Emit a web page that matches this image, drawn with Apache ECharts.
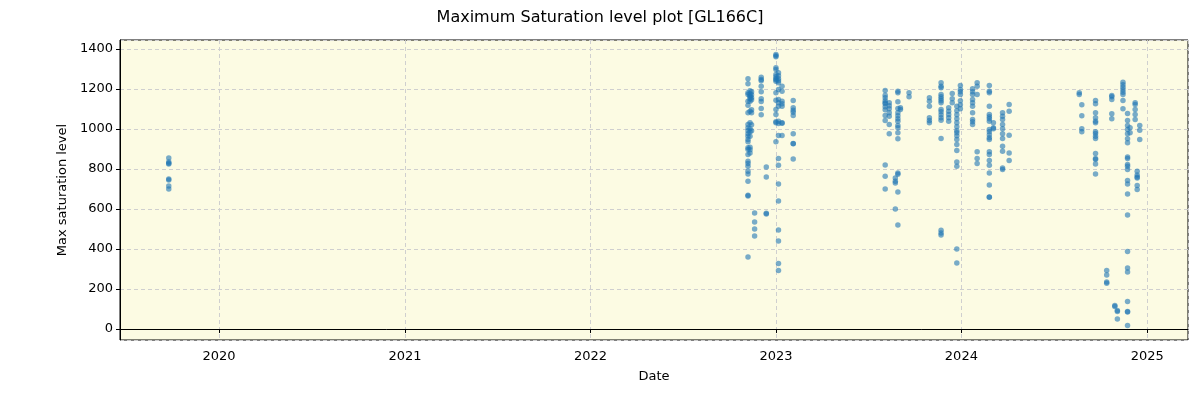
<!DOCTYPE html>
<html>
<head>
<meta charset="utf-8">
<script src="https://cdn.jsdelivr.net/npm/echarts@6/dist/echarts.min.js"></script>
<style>
  html, body { margin: 0; padding: 0; background: #fff; }
  #chart { width: 1200px; height: 400px; }
</style>
</head>
<body>
<div id="chart"></div>
<script>
// observation dates, and the max saturation levels read on each of them
const dates = [
  '2019-09-24',
  '2022-11-07', '2022-11-11', '2022-11-14', '2022-11-20', '2022-12-03', '2022-12-13',
  '2023-01-01', '2023-01-06', '2023-01-13', '2023-02-04',
  '2023-08-04', '2023-08-12', '2023-08-24', '2023-08-29', '2023-09-03', '2023-09-20',
  '2023-10-30', '2023-11-22', '2023-12-07', '2023-12-14', '2023-12-23', '2023-12-30',
  '2024-01-23', '2024-02-01', '2024-02-25', '2024-03-04', '2024-03-22', '2024-04-04',
  '2024-08-20', '2024-08-25', '2024-09-21', '2024-10-13', '2024-10-23', '2024-10-29',
  '2024-11-03', '2024-11-14', '2024-11-23', '2024-11-28', '2024-12-08', '2024-12-12',
  '2024-12-17',
]
const levels = [
  [855, 835, 828, 825, 750, 745, 715, 700],
  [1250, 1225, 1180, 1172, 1138, 1118, 1080, 1022, 1005, 990, 975, 963, 947, 935, 905, 897, 872, 838, 827, 813, 788, 775, 738, 668, 665, 360],
  [1190, 1175, 1165, 1160, 1150, 1138, 1088, 1030, 1000, 985, 963, 908, 895, 880],
  [1185, 1170, 1155, 1145, 1095, 1080, 1020, 990],
  [580, 535, 500, 465],
  [1258, 1247, 1240, 1213, 1185, 1150, 1137, 1102, 1070],
  [810, 760, 578, 575],
  [1372, 1365, 1360, 1305, 1297, 1272, 1260, 1250, 1245, 1238, 1180, 1143, 1097, 1072, 1035, 1030, 935],
  [1280, 1265, 1250, 1240, 1230, 1197, 1147, 1130, 1113, 1038, 1027, 967, 852, 818, 725, 640, 495, 440, 327, 292],
  [1213, 1188, 1138, 1125, 1113, 1030, 1028, 967],
  [1142, 1105, 1093, 1083, 1067, 975, 927, 925, 850],
  [1192, 1168, 1155, 1140, 1130, 1125, 1110, 1095, 1067, 1042, 820, 763, 700],
  [1130, 1115, 1100, 1080, 1063, 1022, 975],
  [755, 738, 730, 600],
  [1188, 1180, 1135, 1102, 1080, 1065, 1050, 1038, 1017, 1005, 980, 950, 780, 773, 685, 520],
  [1105, 1097],
  [1180, 1160],
  [1155, 1138, 1113, 1055, 1042, 1030],
  [1230, 1213, 1205, 1172, 1160, 1150, 1140, 1130, 1097, 1085, 1070, 1055, 1043, 952, 493, 480, 470],
  [1105, 1088, 1072, 1055, 1038],
  [1177, 1150, 1130],
  [1113, 1090, 1070, 1050, 1030, 1010, 990, 980, 965, 947, 922, 892, 835, 813, 400, 330],
  [1217, 1197, 1185, 1172, 1140, 1120, 1100],
  [1200, 1185, 1172, 1147, 1130, 1113, 1080, 1047, 1035, 1022],
  [1230, 1213, 1172, 885, 852, 827],
  [1217, 1188, 1180, 1113, 1072, 1060, 1050, 1038, 997, 985, 970, 955, 947, 885, 872, 842, 818, 780, 720, 660, 658],
  [1030, 1005, 1000],
  [1080, 1063, 1047, 1022, 1000, 975, 952, 913, 888, 805, 797],
  [1122, 1088, 968, 880, 842],
  [1180, 1172],
  [1120, 1065, 1000, 985],
  [1142, 1125, 1080, 1055, 1038, 1030, 985, 977, 963, 952, 877, 852, 847, 825, 775],
  [292, 270, 235, 228],
  [1167, 1160, 1147, 1075, 1050],
  [117, 112],
  [93, 88, 50],
  [1233, 1220, 1208, 1195, 1183, 1172, 1142, 1100],
  [1077, 1042, 1017, 997, 975, 950, 930, 860, 852, 822, 813, 797, 742, 725, 675, 570, 387, 305, 285, 137, 88, 85, 17],
  [1005, 980],
  [1130, 1122, 1097, 1072, 1047],
  [788, 770, 760, 755, 717, 697],
  [1017, 993, 947],
]

const points = []
dates.forEach((d, i) => levels[i].forEach(v => points.push([d, v])))

const chart = echarts.init(document.getElementById('chart'))
const FONT = 'DejaVu Sans'

chart.setOption({
  animation: false,
  title: {
    text: 'Maximum Saturation level plot [GL166C]',
    left: 'center',
    top: 5,
    textStyle: { fontFamily: FONT, fontSize: 16, fontWeight: 'normal', color: '#000' },
  },
  grid: {
    left: 120, right: 12, top: 40, bottom: 60,
    show: true,
    backgroundColor: '#fcfbe3',
    borderColor: '#000',
    borderWidth: 1,
  },
  xAxis: {
    type: 'time',
    min: '2019-06-20',
    max: '2025-03-22',
    minInterval: 365 * 24 * 3600 * 1000,
    maxInterval: 366 * 24 * 3600 * 1000,
    name: 'Date',
    nameLocation: 'middle',
    nameGap: 30,
    nameTextStyle: { fontFamily: FONT, fontSize: 13, color: '#000' },
    axisLine: { lineStyle: { color: '#000' } },
    axisTick: { length: 4, lineStyle: { color: '#000' } },
    axisLabel: {
      fontFamily: FONT, fontSize: 13, color: '#000', margin: 10,
      formatter: '{yyyy}', showMinLabel: false, showMaxLabel: false,
    },
    splitLine: { show: true, lineStyle: { color: '#cfcfcf', type: [4, 3] } },
  },
  yAxis: {
    type: 'value',
    min: -55,
    max: 1444,
    splitNumber: 7,
    name: 'Max saturation level',
    nameLocation: 'middle',
    nameGap: 48,
    nameTextStyle: { fontFamily: FONT, fontSize: 13, color: '#000' },
    axisLine: { show: true, lineStyle: { color: '#000' } },
    axisTick: { show: true, length: 4, lineStyle: { color: '#000' } },
    axisLabel: {
      fontFamily: FONT, fontSize: 13, color: '#000', margin: 7,
      showMinLabel: false, showMaxLabel: false,
      formatter: v => String(v),
    },
    splitLine: { show: true, lineStyle: { color: '#cfcfcf', type: [4, 3] } },
  },
  series: [{
    type: 'scatter',
    data: points,
    symbolSize: 5.5,
    itemStyle: { color: '#1f77b4', opacity: 0.6 },
  }],
})
</script>
</body>
</html>
